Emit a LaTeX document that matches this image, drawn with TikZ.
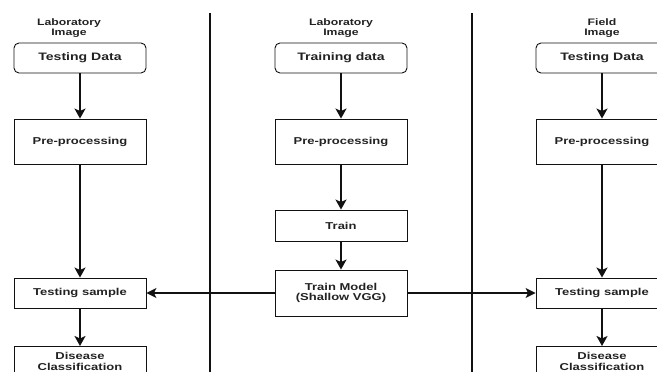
\documentclass[tikz,border=0pt]{standalone}
\usepackage{fontspec}
\newfontfamily\dfont[FakeStretch=1.3]{Liberation Sans}
\usetikzlibrary{arrows.meta}
\definecolor{txt}{HTML}{222222}
\definecolor{ln}{HTML}{111111}
\tikzset{
  box/.style={draw=ln, line width=0.9pt, minimum width=132pt, align=center, text=txt,
    font=\dfont\bfseries\fontsize{10}{10.4}\selectfont, inner sep=0pt},
  rbox/.style={box, rounded corners=5pt, minimum height=30pt,
    font=\dfont\bfseries\fontsize{10.8}{11}\selectfont},
  title/.style={align=center, text=txt, font=\dfont\bfseries\fontsize{9.4}{10}\selectfont, inner sep=0pt},
  flow/.style={draw=ln, line width=2pt, -{Stealth[length=10pt,width=11pt,inset=2.5pt]}},
  hflow/.style={draw=ln, line width=1.2pt, -{Stealth[length=10pt,width=10pt,inset=2.5pt]}},
  sep/.style={draw=ln, line width=2pt}
}
\begin{document}
\begin{tikzpicture}[x=1pt,y=-1pt]
\useasboundingbox (0,0) rectangle (657,372);
\clip (0,0) rectangle (657,372);
% separators
\coordinate (s1t) at (210,13); \coordinate (s1b) at (210,380);
\coordinate (s2t) at (472,13); \coordinate (s2b) at (472,380);
\draw[sep] (s1t) -- (s1b);
\draw[sep] (s2t) -- (s2b);
% titles
\node[title] (t1) at (69,28) {Laboratory\\Image};
\node[title] (t2) at (341,28) {Laboratory\\Image};
\node[title] (t3) at (602,28) {Field\\Image};
% left column
\node[rbox] (l1) at (80,58) {Testing Data};
\node[box, minimum height=45pt] (l2) at (80,141.5) {Pre-processing};
\node[box, minimum height=30pt] (l3) at (80,293) {Testing sample};
\node[box, anchor=north, inner ysep=6pt, minimum height=50pt] (l4) at (80,346) {Disease\\Classification\\[14pt]};
% middle column
\node[rbox] (m1) at (341,58) {Training data};
\node[box, minimum height=45pt] (m2) at (341,141.5) {Pre-processing};
\node[box, minimum height=31pt] (m3) at (341,225.5) {Train};
\node[box, minimum height=46pt] (m4) at (341,293) {Train Model\\(Shallow VGG)};
% right column
\node[rbox] (r1) at (602,58) {Testing Data};
\node[box, minimum height=45pt] (r2) at (602,141.5) {Pre-processing};
\node[box, minimum height=30pt] (r3) at (602,293) {Testing sample};
\node[box, anchor=north, inner ysep=6pt, minimum height=50pt] (r4) at (602,346) {Disease\\Classification\\[14pt]};
% arrows
\draw[flow] (l1) -- (l2);
\draw[flow] (l2) -- (l3);
\draw[flow] (l3) -- (l4);
\draw[flow] (m1) -- (m2);
\draw[flow] (m2) -- (m3);
\draw[flow] (m3) -- (m4);
\draw[flow] (r1) -- (r2);
\draw[flow] (r2) -- (r3);
\draw[flow] (r3) -- (r4);
\draw[hflow] (m4) -- (l3);
\draw[hflow] (m4) -- (r3);
\end{tikzpicture}
\end{document}
